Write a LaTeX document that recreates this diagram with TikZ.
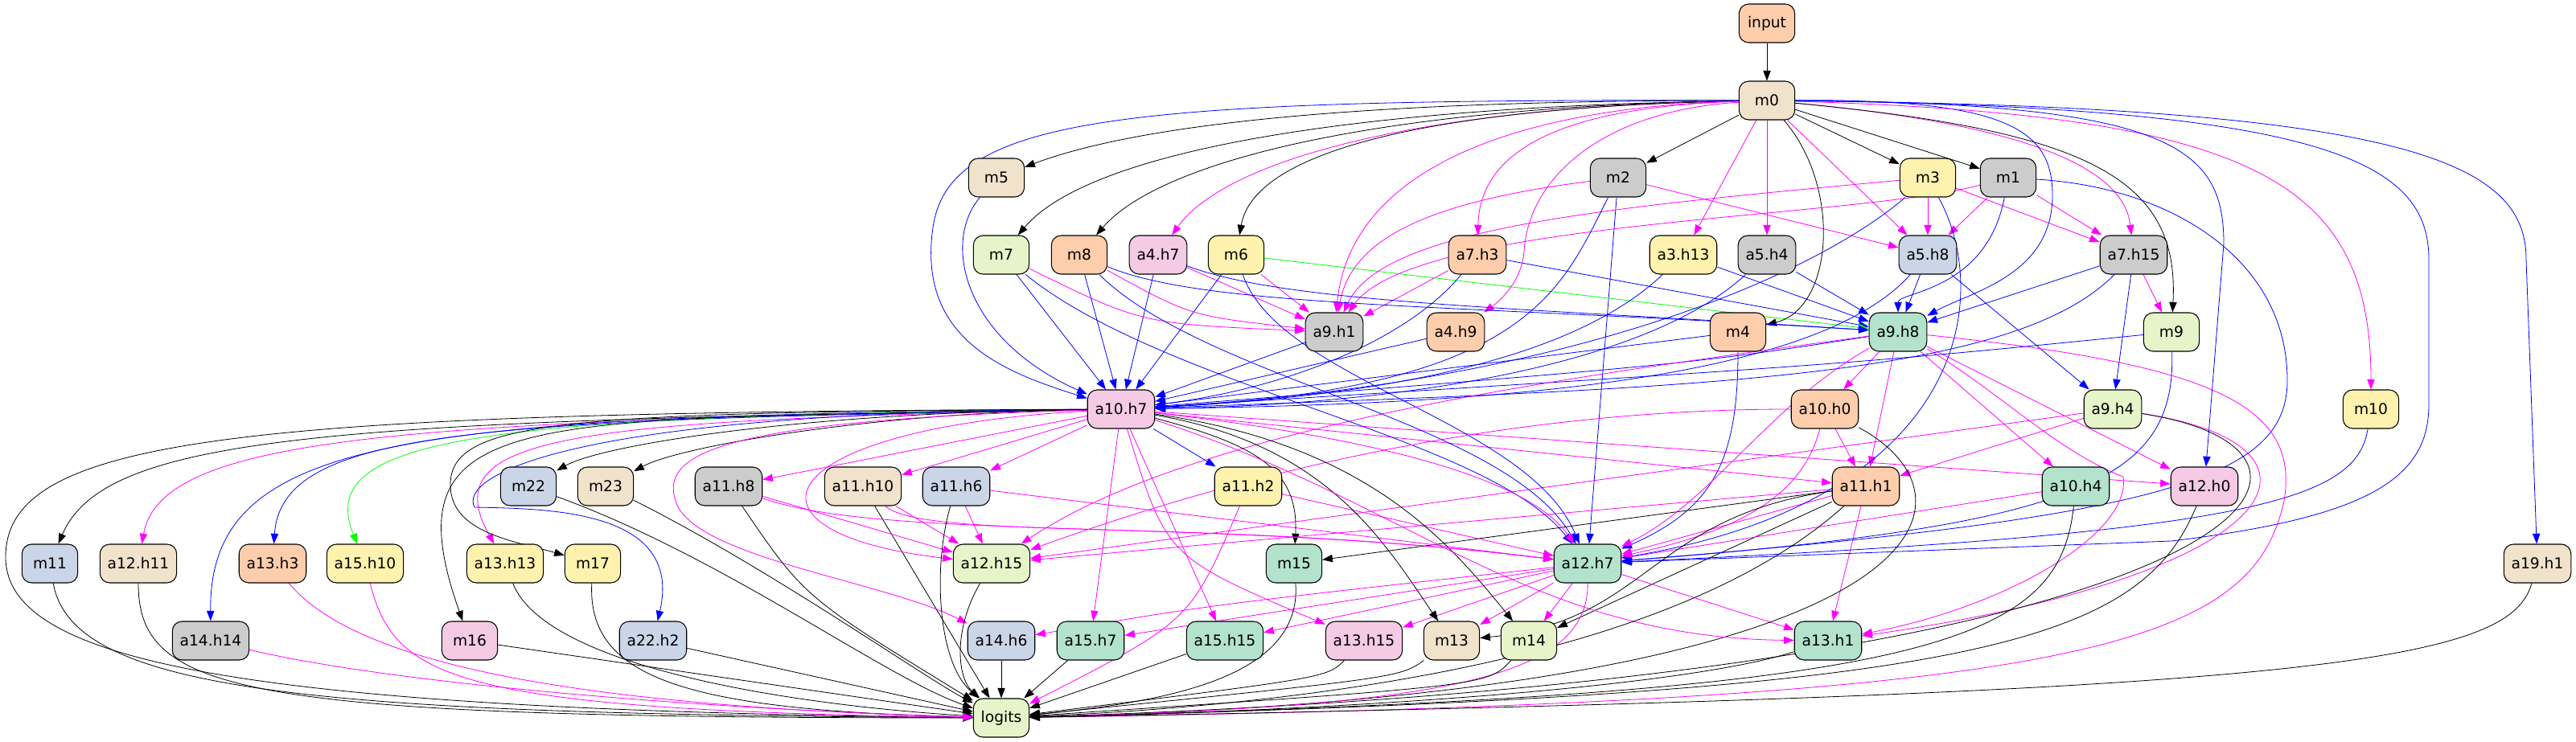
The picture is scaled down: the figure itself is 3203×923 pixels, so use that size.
\documentclass[tikz,border=0pt]{standalone}
\usepackage{fontspec}
\setmainfont{DejaVu Sans}
\usetikzlibrary{arrows.meta,backgrounds}
\definecolor{pgreen}{HTML}{B3E2CD}
\definecolor{ppeach}{HTML}{FDCDAC}
\definecolor{pblue}{HTML}{CBD5E8}
\definecolor{ppink}{HTML}{F4CAE4}
\definecolor{plime}{HTML}{E6F5C9}
\definecolor{pyellow}{HTML}{FFF2AE}
\definecolor{pbeige}{HTML}{F1E2CC}
\definecolor{pgray}{HTML}{CCCCCC}
\definecolor{linkmag}{RGB}{255,0,255}
\definecolor{linkblue}{RGB}{0,0,255}
\definecolor{linkgreen}{RGB}{0,255,0}
\begin{document}
\begin{tikzpicture}[x=.75pt,y=.75pt,
    unit/.style={draw,line width=.8pt,rounded corners=9pt,minimum width=52pt,minimum height=36pt,inner xsep=7pt,font=\fontsize{14}{16}\selectfont},
    eblk/.style={draw=black,line width=.6pt,-{Triangle[length=9.5pt,width=7pt]}},
    eblu/.style={eblk,draw=linkblue},
    emag/.style={eblk,draw=linkmag},
    egrn/.style={eblk,draw=linkgreen}]
  \useasboundingbox (0,0) rectangle (3203,923);
  % rows, top to bottom
  \node[unit,fill=ppeach] (input) at (2197,894) {input};
  \node[unit,fill=pbeige] (m0) at (2197,798) {m0};
  \foreach \nm/\xx/\cc/\tx in {m5/1239/pbeige/m5,m2/2012/pgray/m2,m3/2397/pyellow/m3,m1/2497/pgray/m1}
    \node[unit,fill=\cc] (\nm) at (\xx,702) {\tx};
  \foreach \nm/\xx/\cc/\tx in {m7/1245/plime/m7,m8/1342/ppeach/m8,a4h7/1440/ppink/a4.h7,m6/1537/pyellow/m6,a7h3/1837/ppeach/a7.h3,
      a3h13/2093/pyellow/a3.h13,a5h4/2197/pgray/a5.h4,a5h8/2397/pblue/a5.h8,a7h15/2653/pgray/a7.h15}
    \node[unit,fill=\cc] (\nm) at (\xx,606) {\tx};
  \foreach \nm/\xx/\cc/\tx in {a9h1/1659/pgray/a9.h1,a4h9/1810/ppeach/a4.h9,m4/2161/ppeach/m4,a9h8/2360/pgreen/a9.h8,m9/2700/plime/m9}
    \node[unit,fill=\cc] (\nm) at (\xx,510) {\tx};
  \foreach \nm/\xx/\cc/\tx in {a10h7/1394/ppink/a10.h7,a10h0/2269/ppeach/a10.h0,a9h4/2627/plime/a9.h4,m10/2948/pyellow/m10}
    \node[unit,fill=\cc] (\nm) at (\xx,414) {\tx};
  \foreach \nm/\xx/\cc/\tx in {m22/657/pblue/m22,m23/753/pbeige/m23,a11h8/906/pgray/a11.h8,a11h10/1073/pbeige/a11.h10,a11h6/1189/pblue/a11.h6,
      a11h2/1552/pyellow/a11.h2,a11h1/2320/ppeach/a11.h1,a10h4/2581/pgreen/a10.h4,a12h0/2741/ppink/a12.h0}
    \node[unit,fill=\cc] (\nm) at (\xx,318) {\tx};
  \foreach \nm/\xx/\cc/\tx in {m11/62/pblue/m11,a12h11/172/pbeige/a12.h11,a13h3/339/ppeach/a13.h3,a15h10/454/pyellow/a15.h10,a13h13/628/pyellow/a13.h13,
      m17/737/pyellow/m17,a12h15/1233/plime/a12.h15,m15/1609/pgreen/m15,a12h7/1974/pgreen/a12.h7,a19h1/3155/pbeige/a19.h1}
    \node[unit,fill=\cc] (\nm) at (\xx,222) {\tx};
  \foreach \nm/\xx/\cc/\tx in {a14h14/262/pgray/a14.h14,m16/584/ppink/m16,a22h2/812/pblue/a22.h2,a14h6/1245/pblue/a14.h6,a15h7/1356/pgreen/a15.h7,
      a15h15/1523/pgreen/a15.h15,a13h15/1696/ppink/a13.h15,m13/1805/pbeige/m13,m14/1901/plime/m14,a13h1/2273/pgreen/a13.h1}
    \node[unit,fill=\cc] (\nm) at (\xx,126) {\tx};
  \node[unit,fill=plime] (logits) at (1245,30) {logits};

  \begin{scope}[on background layer]
    % straight edges
    \foreach \src/\dst in {input/m0,m0/m2,m0/m3,m0/m1,a11h1/m15,a11h1/m14,a14h6/logits,a15h7/logits,a15h15/logits,a22h2/logits,m16/logits,a11h10/logits}
      \draw[eblk] (\src) -- (\dst);
    \foreach \src/\dst in {m0/a3h13,m0/a5h4,m0/a5h8,m2/a5h8,m3/a5h8,m1/a5h8,m3/a7h15,m1/a7h15,a7h15/m9,a4h7/a9h1,m6/a9h1,a7h3/a9h1,
        a9h8/a10h0,a9h8/a11h1,a9h8/a10h4,a9h8/a12h0,a10h0/a11h1,a9h4/a11h1,a9h4/a12h15,a11h1/a12h7,a11h1/a12h15,a11h1/a13h1,a10h4/a12h7,
        a10h7/a11h8,a10h7/a11h10,a10h7/a11h6,a10h7/a15h7,a10h7/a15h15,a10h7/a11h1,a10h7/a12h0,a11h8/a12h15,a11h10/a12h15,a11h6/a12h15,
        a11h6/a12h7,a11h2/a12h7,a12h7/a15h7,a12h7/a15h15,a12h7/a13h15,a12h7/m13,a12h7/m14,a12h7/a13h1}
      \draw[emag] (\src) -- (\dst);
    \foreach \src/\dst in {m7/a10h7,m8/a10h7,a4h7/a10h7,m6/a10h7,a9h1/a10h7,a4h9/a10h7,m4/a10h7,a7h3/a9h8,a3h13/a9h8,a5h4/a9h8,
        a5h8/a9h8,a7h15/a9h8,a5h8/a9h4,a7h15/a9h4,m2/a12h7,a10h7/a11h2}
      \draw[eblu] (\src) -- (\dst);
    \draw[egrn] (m6) -- (a9h8);
    % from m0
    \draw[eblk] (m0) .. controls (1700,798) and (1420,770) .. (m5);
    \draw[eblk] (m0) .. controls (1650,790) and (1350,730) .. (m7);
    \draw[eblk] (m0) .. controls (1700,790) and (1440,720) .. (m8);
    \draw[emag] (m0) .. controls (1750,790) and (1520,720) .. (a4h7);
    \draw[eblk] (m0) .. controls (1800,790) and (1560,740) .. (m6);
    \draw[eblu] (m0) .. controls (1400,800) and (1180,780) .. (1160,640) .. controls (1140,500) and (1250,460) .. (a10h7);
    \draw[emag] (m0) .. controls (1900,790) and (1680,720) .. (a9h1);
    \draw[emag] (m0) .. controls (1950,790) and (1840,740) .. (a7h3);
    \draw[emag] (m0) .. controls (1990,785) and (1900,700) .. (1895,610) .. controls (1892,570) and (1860,545) .. (a4h9);
    \draw[eblk] (m0) .. controls (2290,690) and (2280,540) .. (m4);
    \draw[emag] (m0) .. controls (2500,770) and (2640,720) .. (a7h15);
    \draw[eblk] (m0) .. controls (2600,760) and (2710,700) .. (m9);
    \draw[eblu] (m0) .. controls (2500,800) and (2552,760) .. (2552,680) .. controls (2552,580) and (2450,560) .. (a9h8);
    \draw[emag] (m0) .. controls (2800,780) and (2948,700) .. (m10);
    \draw[eblu] (m0) .. controls (2700,795) and (2765,740) .. (2765,620) -- (a12h0);
    \draw[eblu] (m0) .. controls (2900,790) and (3020,720) .. (3020,600) -- (3020,420) .. controls (3020,330) and (2950,280) .. (2700,250) -- (a12h7);
    \draw[eblu] (m0) .. controls (3000,790) and (3141,720) .. (3141,600) -- (a19h1);
    % second and third rows
    \draw[eblu] (m5) .. controls (1170,620) and (1200,500) .. (a10h7);
    \draw[emag] (m2) .. controls (1760,670) and (1680,620) .. (a9h1);
    \draw[emag] (m3) .. controls (2000,665) and (1720,640) .. (a9h1);
    \draw[emag] (m1) .. controls (2300,650) and (1760,650) .. (a9h1);
    \draw[eblu] (m2) .. controls (1940,560) and (1900,440) .. (a10h7);
    \draw[eblu] (m3) .. controls (2280,600) and (2000,450) .. (a10h7);
    \draw[eblu] (m3) .. controls (2480,550) and (2440,300) .. (a12h7);
    \draw[eblu] (m1) .. controls (2470,560) and (2360,560) .. (a9h8);
    \draw[eblu] (m1) .. controls (2700,690) and (2844,600) .. (2844,450) .. controls (2844,330) and (2700,280) .. (a12h7);
    \draw[emag] (m7) .. controls (1420,520) .. (a9h1);
    \draw[emag] (m8) .. controls (1480,530) .. (a9h1);
    \draw[eblu] (m7) .. controls (1450,440) and (1850,380) .. (a12h7);
    \draw[eblu] (m8) .. controls (1500,450) and (1870,400) .. (a12h7);
    \draw[eblu] (m6) .. controls (1590,450) and (1900,400) .. (a12h7);
    \draw[eblu] (m8) .. controls (1500,540) and (1800,545) .. (a9h8);
    \draw[eblu] (a4h7) .. controls (1600,545) and (1900,540) .. (a9h8);
    \draw[eblu] (a7h3) .. controls (1750,500) and (1600,440) .. (a10h7);
    \draw[eblu] (a3h13) .. controls (1950,470) and (1700,430) .. (a10h7);
    \draw[eblu] (a5h4) .. controls (2050,470) and (1750,420) .. (a10h7);
    \draw[eblu] (a5h8) .. controls (2250,440) and (1800,420) .. (a10h7);
    \draw[eblu] (a7h15) .. controls (2500,450) and (2100,440) .. (a10h7);
    % fourth and fifth rows
    \draw[eblu] (m4) .. controls (2161,350) and (2130,290) .. (a12h7);
    \draw[eblu] (m9) .. controls (2705,330) and (2600,270) .. (a12h7);
    \draw[eblu] (m9) .. controls (2300,470) .. (a10h7);
    \draw[eblu] (m10) .. controls (2930,300) and (2800,260) .. (a12h7);
    \draw[eblu] (a9h8) .. controls (2100,470) .. (a10h7);
    \draw[emag] (a9h8) .. controls (2480,440) and (2560,360) .. (2640,330) .. controls (2650,260) and (2500,170) .. (a13h1);
    \draw[emag] (a9h8) .. controls (2750,470) and (2860,420) .. (2840,300) .. controls (2800,120) and (2600,50) .. (logits);
    \draw[emag] (a9h8) .. controls (2000,460) and (1500,400) .. (a12h15);
    \draw[emag] (a9h8) .. controls (2200,420) and (2130,300) .. (a12h7);
    \draw[emag] (a10h0) .. controls (2240,300) and (2150,260) .. (a12h7);
    \draw[eblk] (a10h0) .. controls (2480,300) and (2420,60) .. (logits);
    \draw[emag] (a10h0) .. controls (1800,414) and (1450,300) .. (a12h15);
    \draw[emag] (a9h4) .. controls (2920,370) and (2860,210) .. (a13h1);
    \draw[eblk] (a9h4) .. controls (2980,360) and (2820,80) .. (logits);
    % from a10.h7
    \draw[eblk] (a10h7) .. controls (400,400) and (130,380) .. (m11);
    \draw[eblk] (a10h7) .. controls (300,410) and (7,380) .. (7,230) .. controls (7,100) and (300,40) .. (logits);
    \draw[emag] (a10h7) .. controls (500,400) and (200,380) .. (a12h11);
    \draw[eblu] (a10h7) .. controls (600,400) and (350,390) .. (a13h3);
    \draw[eblu] (a10h7) .. controls (500,405) and (260,380) .. (a14h14);
    \draw[egrn] (a10h7) .. controls (600,405) and (390,380) .. (a15h10);
    \draw[eblk] (a10h7) .. controls (650,400) and (480,420) .. (m16);
    \draw[emag] (a10h7) .. controls (700,400) and (540,380) .. (a13h13);
    \draw[eblk] (a10h7) .. controls (700,410) and (560,400) .. (560,320) .. controls (560,260) and (640,250) .. (m17);
    \draw[eblu] (a10h7) .. controls (700,410) and (570,330) .. (590,292) .. controls (680,290) and (850,290) .. (a22h2);
    \draw[eblk] (a10h7) .. controls (1000,410) and (750,370) .. (m22);
    \draw[eblk] (a10h7) .. controls (1100,410) and (850,370) .. (m23);
    \draw[emag] (a10h7) .. controls (950,390) and (900,260) .. (a12h15);
    \draw[emag] (a10h7) .. controls (900,400) and (820,360) .. (840,300) .. controls (860,230) and (1100,200) .. (a14h6);
    \draw[eblk] (a10h7) .. controls (1560,370) and (1615,340) .. (m15);
    \draw[eblk] (a10h7) .. controls (1650,370) and (1720,250) .. (m13);
    \draw[eblk] (a10h7) .. controls (1700,370) and (1800,250) .. (m14);
    \draw[emag] (a10h7) .. controls (1700,380) and (1900,330) .. (a12h7);
    \draw[emag] (a10h7) .. controls (1750,300) and (1900,130) .. (a13h1);
    \draw[emag] (a10h7) .. controls (1450,230) .. (a13h15);
    % sixth row
    \draw[emag] (a11h8) .. controls (1100,250) and (1500,280) .. (a12h7);
    \draw[emag] (a11h10) .. controls (1150,250) and (1500,280) .. (a12h7);
    \draw[eblk] (a11h1) .. controls (2050,280) and (2050,150) .. (m13);
    \draw[eblk] (a11h1) .. controls (2100,120) and (1700,50) .. (logits);
    \draw[eblk] (a10h4) .. controls (2560,120) and (2400,60) .. (logits);
    \draw[eblk] (a12h0) .. controls (2660,120) and (2450,60) .. (logits);
    \draw[emag] (a11h2) .. controls (1480,150) .. (logits);
    \draw[eblk] (m22) .. controls (900,230) and (1100,80) .. (logits);
    \draw[eblk] (m23) .. controls (950,220) and (1150,80) .. (logits);
    \draw[eblk] (a11h8) .. controls (1000,180) .. (logits);
    \draw[eblk] (a11h6) .. controls (1160,220) and (1165,100) .. (logits);
    % into logits from the lower rows
    \draw[eblk] (m11) .. controls (90,60) and (400,35) .. (logits);
    \draw[eblk] (a12h11) .. controls (172,60) and (300,30) .. (logits);
    \draw[emag] (a13h3) .. controls (440,100) and (700,45) .. (logits);
    \draw[emag] (a15h10) .. controls (490,80) and (560,40) .. (logits);
    \draw[eblk] (a13h13) .. controls (680,90) and (1000,45) .. (logits);
    \draw[eblk] (m17) .. controls (730,80) and (850,40) .. (logits);
    \draw[emag] (a14h14) .. controls (500,70) and (900,40) .. (logits);
    \draw[eblk] (a12h15) .. controls (1185,140) and (1190,80) .. (logits);
    \draw[eblk] (m15) .. controls (1620,80) and (1450,50) .. (logits);
    \draw[emag] (a12h7) .. controls (1500,170) .. (a14h6);
    \draw[emag] (a12h7) .. controls (1975,80) and (1800,45) .. (logits);
    \draw[eblk] (a13h15) .. controls (1650,80) .. (logits);
    \draw[eblk] (m13) .. controls (1740,80) .. (logits);
    \draw[eblk] (m14) .. controls (1850,70) .. (logits);
    \draw[eblk] (a13h1) .. controls (2100,70) and (1700,40) .. (logits);
    \draw[eblk] (a19h1) .. controls (3120,100) and (2900,60) .. (logits);
  \end{scope}
\end{tikzpicture}
\end{document}
